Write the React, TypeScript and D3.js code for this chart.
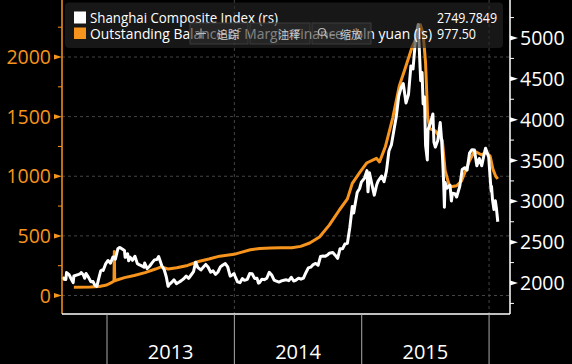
import React from "react";
import * as d3 from "d3";

const W = 572;
const H = 364;

const shanghai: [string, number][] = [
  ["2012-08-27", 2073], ["2012-08-31", 2047], ["2012-09-05", 2043], ["2012-09-07", 2128], ["2012-09-12", 2110],
  ["2012-09-14", 2105], ["2012-09-19", 2061], ["2012-09-26", 2004], ["2012-09-28", 2086], ["2012-10-12", 2105],
  ["2012-10-17", 2115], ["2012-10-19", 2128], ["2012-10-25", 2101], ["2012-10-29", 2058], ["2012-11-02", 2117],
  ["2012-11-09", 2069], ["2012-11-16", 2014], ["2012-11-22", 2017], ["2012-11-27", 1974], ["2012-12-03", 1959],
  ["2012-12-07", 2033], ["2012-12-14", 2150], ["2012-12-19", 2161], ["2012-12-21", 2153], ["2012-12-28", 2233],
  ["2013-01-04", 2276], ["2013-01-11", 2243], ["2013-01-18", 2317], ["2013-01-22", 2315], ["2013-01-25", 2292],
  ["2013-02-01", 2419], ["2013-02-06", 2434], ["2013-02-08", 2432], ["2013-02-20", 2397], ["2013-02-22", 2314],
  ["2013-02-27", 2325], ["2013-03-01", 2359], ["2013-03-04", 2273], ["2013-03-08", 2318], ["2013-03-15", 2278],
  ["2013-03-22", 2328], ["2013-03-29", 2237], ["2013-04-03", 2225], ["2013-04-12", 2206], ["2013-04-17", 2194],
  ["2013-04-19", 2245], ["2013-04-26", 2177], ["2013-05-03", 2205], ["2013-05-10", 2246], ["2013-05-17", 2283],
  ["2013-05-24", 2288], ["2013-05-29", 2324], ["2013-05-31", 2301], ["2013-06-07", 2211], ["2013-06-14", 2162],
  ["2013-06-20", 2073], ["2013-06-25", 1959], ["2013-06-28", 1979], ["2013-07-05", 2007], ["2013-07-12", 2039],
  ["2013-07-19", 1992], ["2013-07-26", 2010], ["2013-08-02", 2029], ["2013-08-09", 2052], ["2013-08-16", 2085],
  ["2013-08-23", 2057], ["2013-08-30", 2098], ["2013-09-06", 2139], ["2013-09-12", 2255], ["2013-09-18", 2191],
  ["2013-09-27", 2160], ["2013-10-11", 2228], ["2013-10-18", 2193], ["2013-10-25", 2133], ["2013-11-01", 2149],
  ["2013-11-08", 2106], ["2013-11-15", 2135], ["2013-11-22", 2197], ["2013-11-29", 2220], ["2013-12-06", 2238],
  ["2013-12-13", 2196], ["2013-12-20", 2084], ["2013-12-27", 2101], ["2013-12-31", 2116], ["2014-01-03", 2083],
  ["2014-01-10", 2013], ["2014-01-17", 2004], ["2014-01-24", 2054], ["2014-01-30", 2033], ["2014-02-07", 2044],
  ["2014-02-14", 2115], ["2014-02-21", 2113], ["2014-02-28", 2056], ["2014-03-07", 2057], ["2014-03-11", 1998],
  ["2014-03-14", 2004], ["2014-03-21", 2047], ["2014-03-28", 2041], ["2014-04-04", 2058], ["2014-04-11", 2130],
  ["2014-04-18", 2098], ["2014-04-25", 2036], ["2014-04-30", 2026], ["2014-05-09", 2011], ["2014-05-16", 2026],
  ["2014-05-23", 2034], ["2014-05-30", 2039], ["2014-06-06", 2029], ["2014-06-13", 2070], ["2014-06-20", 2024],
  ["2014-06-27", 2036], ["2014-07-04", 2059], ["2014-07-11", 2046], ["2014-07-18", 2059], ["2014-07-25", 2126],
  ["2014-08-01", 2185], ["2014-08-08", 2194], ["2014-08-15", 2226], ["2014-08-22", 2240], ["2014-08-29", 2217],
  ["2014-09-05", 2326], ["2014-09-12", 2331], ["2014-09-19", 2329], ["2014-09-26", 2347], ["2014-09-30", 2364],
  ["2014-10-10", 2374], ["2014-10-17", 2341], ["2014-10-24", 2302], ["2014-10-31", 2420], ["2014-11-07", 2418],
  ["2014-11-14", 2478], ["2014-11-21", 2487], ["2014-11-28", 2683], ["2014-12-05", 2938], ["2014-12-09", 2856],
  ["2014-12-12", 2938], ["2014-12-19", 3108], ["2014-12-26", 3157], ["2014-12-31", 3235], ["2015-01-09", 3285],
  ["2015-01-16", 3376], ["2015-01-19", 3116], ["2015-01-23", 3351], ["2015-01-30", 3210], ["2015-02-06", 3076],
  ["2015-02-13", 3203], ["2015-02-17", 3247], ["2015-02-27", 3310], ["2015-03-06", 3242], ["2015-03-13", 3373],
  ["2015-03-20", 3617], ["2015-03-27", 3691], ["2015-04-03", 3864], ["2015-04-10", 4035], ["2015-04-17", 4287],
  ["2015-04-24", 4394], ["2015-04-30", 4442], ["2015-05-08", 4205], ["2015-05-15", 4308], ["2015-05-22", 4658],
  ["2015-05-28", 4620], ["2015-06-05", 5023], ["2015-06-12", 5166], ["2015-06-19", 4478], ["2015-06-23", 4577],
  ["2015-06-26", 4192], ["2015-06-30", 4277], ["2015-07-03", 3687], ["2015-07-08", 3507], ["2015-07-10", 3878],
  ["2015-07-17", 3958], ["2015-07-24", 4070], ["2015-07-27", 3726], ["2015-07-31", 3664], ["2015-08-07", 3744],
  ["2015-08-14", 3965], ["2015-08-18", 3749], ["2015-08-21", 3508], ["2015-08-24", 3210], ["2015-08-26", 2927],
  ["2015-08-28", 3232], ["2015-09-02", 3160], ["2015-09-11", 3200], ["2015-09-15", 3005], ["2015-09-18", 3098],
  ["2015-09-25", 3093], ["2015-09-30", 3053], ["2015-10-09", 3183], ["2015-10-16", 3391], ["2015-10-23", 3412],
  ["2015-10-30", 3383], ["2015-11-06", 3590], ["2015-11-13", 3632], ["2015-11-20", 3630], ["2015-11-27", 3436],
  ["2015-12-04", 3525], ["2015-12-11", 3435], ["2015-12-18", 3579], ["2015-12-22", 3651], ["2015-12-31", 3539],
  ["2016-01-04", 3297], ["2016-01-07", 3125], ["2016-01-08", 3186], ["2016-01-11", 3016], ["2016-01-15", 2901],
  ["2016-01-19", 3008], ["2016-01-22", 2917], ["2016-01-26", 2750],
];

const margin: [string, number][] = [
  ["2012-09-28", 70], ["2012-11-15", 72], ["2012-12-10", 76], ["2012-12-31", 88],
  ["2013-01-15", 110], ["2013-01-21", 122], ["2013-01-22", 370], ["2013-01-23", 124], ["2013-02-20", 150],
  ["2013-03-20", 168], ["2013-04-20", 192], ["2013-05-20", 222], ["2013-06-05", 240], ["2013-06-25", 222],
  ["2013-07-20", 232], ["2013-08-20", 252], ["2013-09-20", 285], ["2013-10-20", 306], ["2013-11-20", 330],
  ["2013-12-31", 345], ["2014-01-20", 362], ["2014-02-16", 384], ["2014-03-15", 394], ["2014-04-15", 398],
  ["2014-05-15", 400], ["2014-06-15", 400], ["2014-07-10", 412], ["2014-08-05", 440], ["2014-09-02", 490],
  ["2014-09-30", 590], ["2014-10-29", 717], ["2014-11-21", 810], ["2014-12-05", 940], ["2014-12-26", 1030],
  ["2015-01-15", 1111], ["2015-02-12", 1150], ["2015-02-21", 1120], ["2015-03-10", 1250], ["2015-03-31", 1490],
  ["2015-04-19", 1760], ["2015-05-05", 1900], ["2015-05-25", 2080], ["2015-06-05", 2150], ["2015-06-18", 2270],
  ["2015-06-26", 2200], ["2015-07-03", 1950], ["2015-07-09", 1500], ["2015-07-15", 1400], ["2015-07-31", 1380],
  ["2015-08-12", 1330], ["2015-08-20", 1300], ["2015-08-28", 1050], ["2015-09-10", 910], ["2015-09-30", 920],
  ["2015-10-14", 960], ["2015-11-06", 1130], ["2015-11-20", 1210], ["2015-12-10", 1180], ["2015-12-24", 1200],
  ["2016-01-04", 1170], ["2016-01-12", 1060], ["2016-01-20", 1000], ["2016-01-26", 977.5],
];

const leftTicks = [0, 500, 1000, 1500, 2000];
const leftMinor = [250, 750, 1250, 1750, 2250];
const rightTicks = [2000, 2500, 3000, 3500, 4000, 4500, 5000];
const rightMinor = [1750, 2250, 2750, 3250, 3750, 4250, 4750, 5250];
const yearBounds = ["2013-01-01", "2014-01-01", "2015-01-01", "2016-01-01"];
const yearLabels = ["2013", "2014", "2015"];
const vGrid = ["2014-01-01", "2016-01-01"];

const legendNames = ["Shanghai Composite Index (rs)", "Outstanding Balance of Margin Finance - bln yuan (ls)"];
const legendValues = ["2749.7849", "977.50"];
const toolbarLabels = ["追踪", "注释", "缩放"];

const ORANGE = "#f7941d";
const FONT = "'Open Sans', 'Noto Sans', sans-serif";
const parse = d3.utcParse("%Y-%m-%d");

export default function App() {
  const x0 = 62, x1 = 510, yBottom = 314;
  const x = d3.scaleUtc().domain([parse("2012-08-25")!, parse("2016-03-01")!]).range([x0, x1]);
  const yL = d3.scaleLinear().domain([0, 2000]).range([295.5, 57]);
  const yR = d3.scaleLinear().domain([2000, 5000]).range([283, 38]);

  const shLine = d3.line<[string, number]>().x((d) => x(parse(d[0])!)).y((d) => yR(d[1]));
  const mgLine = d3.line<[string, number]>().x((d) => x(parse(d[0])!)).y((d) => yL(d[1]));

  const tb = [
    { x: 190, w: 58 },
    { x: 250, w: 60 },
    { x: 312, w: 59 },
  ];

  return (
    <svg width={W} height={H} style={{ position: "fixed", left: 0, top: 0, background: "#000" }} fontFamily={FONT}>
      <rect x={0} y={0} width={W} height={H} fill="#000" />
      {/* grid */}
      {leftTicks.map((t) => (
        <line key={"hg" + t} x1={x0} x2={x1} y1={yL(t)} y2={yL(t)} stroke="#444" strokeDasharray="3,3" strokeWidth={1} />
      ))}
      {vGrid.map((d) => (
        <line key={"vg" + d} x1={x(parse(d)!)} x2={x(parse(d)!)} y1={0} y2={yBottom} stroke="#444" strokeDasharray="3,3" strokeWidth={1} />
      ))}
      {/* series */}
      <path d={mgLine(margin)!} fill="none" stroke={ORANGE} strokeWidth={3} strokeLinejoin="round" />
      <path d={shLine(shanghai)!} fill="none" stroke="#fff" strokeWidth={3} strokeLinejoin="round" />

      {/* left axis */}
      <line x1={x0} x2={x0} y1={0} y2={yBottom} stroke={ORANGE} strokeWidth={1.5} />
      {leftMinor.map((t) => (
        <line key={"lm" + t} x1={x0 - 4} x2={x0} y1={yL(t)} y2={yL(t)} stroke={ORANGE} strokeWidth={1} />
      ))}
      {leftTicks.map((t) => (
        <g key={"lt" + t}>
          <path d={`M${x0},${yL(t)} L${x0 - 8},${yL(t) - 2.5} L${x0 - 8},${yL(t) + 2.5} Z`} fill={ORANGE} />
          <text x={51} y={yL(t)} dy="0.36em" textAnchor="end" fill={ORANGE} fontSize={19.5}>
            {t}
          </text>
        </g>
      ))}

      {/* right axis */}
      <line x1={x1} x2={x1} y1={0} y2={yBottom} stroke="#fff" strokeWidth={1.5} />
      {rightMinor.map((t) => (
        <line key={"rm" + t} x1={x1} x2={x1 + 4} y1={yR(t)} y2={yR(t)} stroke="#fff" strokeWidth={1} />
      ))}
      {rightTicks.map((t) => (
        <g key={"rt" + t}>
          <path d={`M${x1},${yR(t) - 2.5} L${x1 + 8},${yR(t)} L${x1},${yR(t) + 2.5} Z`} fill="#fff" />
          <text x={520} y={yR(t)} dy="0.36em" textAnchor="start" fill="#fff" fontSize={19.5}>
            {t}
          </text>
        </g>
      ))}

      {/* bottom axis */}
      <line x1={x0} x2={x1} y1={yBottom} y2={yBottom} stroke="#fff" strokeWidth={1.5} />
      {yearBounds.map((d) => (
        <line key={"yb" + d} x1={x(parse(d)!)} x2={x(parse(d)!)} y1={yBottom} y2={H} stroke="#aaa" strokeWidth={1} />
      ))}
      {yearLabels.map((lab, i) => {
        const cx = (x(parse(yearBounds[i])!) + x(parse(yearBounds[i + 1])!)) / 2;
        return (
          <text key={"yl" + lab} x={cx} y={359} textAnchor="middle" fill="#fff" fontSize={20}>
            {lab}
          </text>
        );
      })}

      {/* legend */}
      <rect x={65} y={2.5} width={438} height={45.5} rx={4} fill="#262626" fillOpacity={0.6} />
      <rect x={74} y={11.5} width={12} height={12} fill="#fff" />
      <rect x={74} y={27.5} width={12} height={11.5} fill={ORANGE} />
      <text x={90} y={23} fill="#fff" fontSize={14.5} textLength={188} lengthAdjust="spacingAndGlyphs">
        {legendNames[0]}
      </text>
      <text x={90} y={39} fill="#fff" fontSize={14.5} textLength={342} lengthAdjust="spacingAndGlyphs">
        {legendNames[1]}
      </text>
      <text x={437} y={23} fill="#fff" fontSize={14.5} textLength={60} lengthAdjust="spacingAndGlyphs">
        {legendValues[0]}
      </text>
      <text x={437} y={39} fill="#fff" fontSize={14.5} textLength={39} lengthAdjust="spacingAndGlyphs">
        {legendValues[1]}
      </text>

      {/* toolbar overlay */}
      {tb.map((b, i) => (
        <rect key={"tb" + i} x={b.x} y={23} width={b.w} height={21} fill="#2e2e2e" fillOpacity={0.6} stroke="#3c3c3c" strokeWidth={1} />
      ))}
      <g stroke="#bbb" strokeWidth={1}>
        <line x1={196} x2={206} y1={33.5} y2={33.5} />
        <line x1={201} x2={201} y1={28.5} y2={38.5} />
      </g>
      <g stroke="#bbb" strokeWidth={1.2} fill="none">
        <circle cx={322} cy={32} r={3.5} />
        <line x1={324.5} y1={34.5} x2={327.5} y2={37.5} />
        <line x1={330} y1={35} x2={335} y2={35} />
      </g>
      <text x={217} y={38.5} fill="#ccc" fontSize={11} fontFamily="'Noto Sans CJK SC', sans-serif">{toolbarLabels[0]}</text>
      <text x={278} y={38.5} fill="#ccc" fontSize={11} fontFamily="'Noto Sans CJK SC', sans-serif">{toolbarLabels[1]}</text>
      <text x={340} y={38.5} fill="#ccc" fontSize={11} fontFamily="'Noto Sans CJK SC', sans-serif">{toolbarLabels[2]}</text>
    </svg>
  );
}
